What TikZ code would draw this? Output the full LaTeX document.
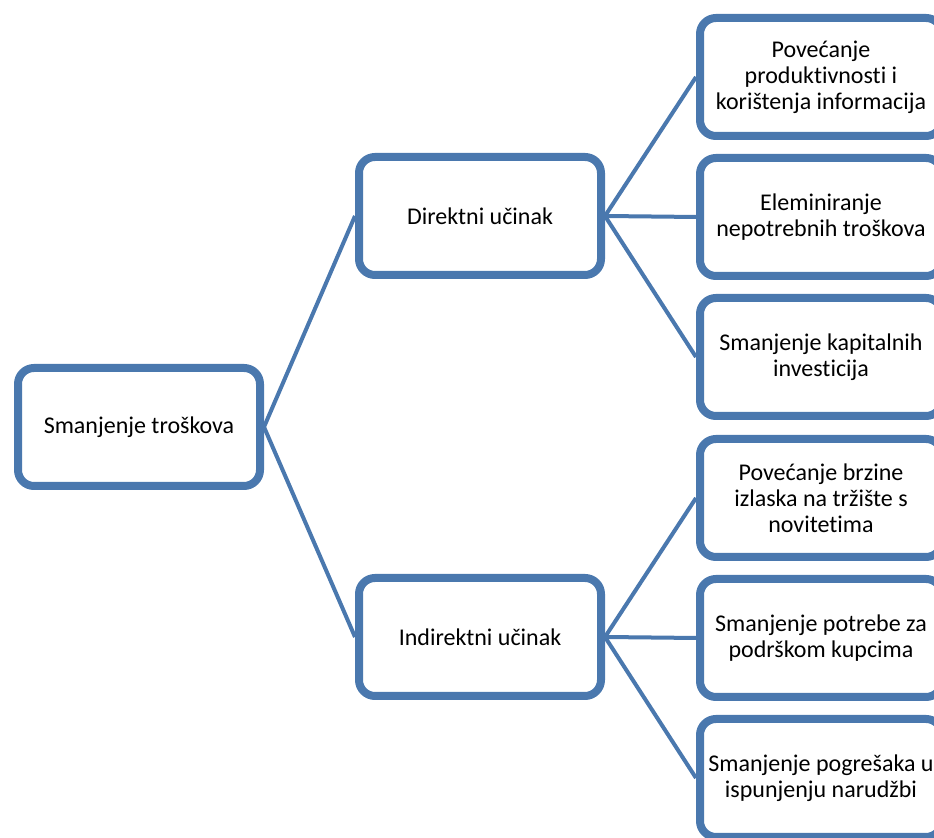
\documentclass[tikz,border=0pt]{standalone}
\usepackage{fontspec}
\setmainfont{Carlito}[Ligatures=NoCommon]
\usetikzlibrary{shadows}
\definecolor{smblue}{RGB}{74,120,174}
\begin{document}
\begin{tikzpicture}[x=0.5pt,y=-0.5pt,
  box/.style={draw=smblue, line width=4pt, rounded corners=8pt, fill=white,
    minimum width=121pt, minimum height=59pt, inner sep=0pt, align=center,
    font=\fontsize{12}{13}\selectfont,
    drop shadow={opacity=0.25, shadow xshift=1pt, shadow yshift=-1.5pt}},
  link/.style={draw=smblue, line width=2pt}]
\useasboundingbox (0,0) rectangle (934,838);
\node[box] (nd0) at (139,427){Smanjenje troškova};
\node[box] (nd1) at (480,216){Direktni učinak};
\node[box] (nd2) at (480,637){Indirektni učinak};
\node[box] (nd3) at (821,77){Povećanje\\produktivnosti i\\korištenja informacija};
\node[box] (nd4) at (821,217){Eleminiranje\\nepotrebnih troškova};
\node[box] (nd5) at (821,357){Smanjenje kapitalnih\\investicija};
\node[box] (nd6) at (821,498){Povećanje brzine\\izlaska na tržište s\\novitetima};
\node[box] (nd7) at (821,638){Smanjenje potrebe za\\podrškom kupcima};
\node[box] (nd8) at (821,778){Smanjenje pogrešaka u\\ispunjenju narudžbi};
\draw[link](nd0.east) -- (nd1.west);
\draw[link](nd0.east) -- (nd2.west);
\draw[link](nd1.east) -- (nd3.west);
\draw[link](nd1.east) -- (nd4.west);
\draw[link](nd1.east) -- (nd5.west);
\draw[link](nd2.east) -- (nd6.west);
\draw[link](nd2.east) -- (nd7.west);
\draw[link](nd2.east) -- (nd8.west);
\end{tikzpicture}
\end{document}
